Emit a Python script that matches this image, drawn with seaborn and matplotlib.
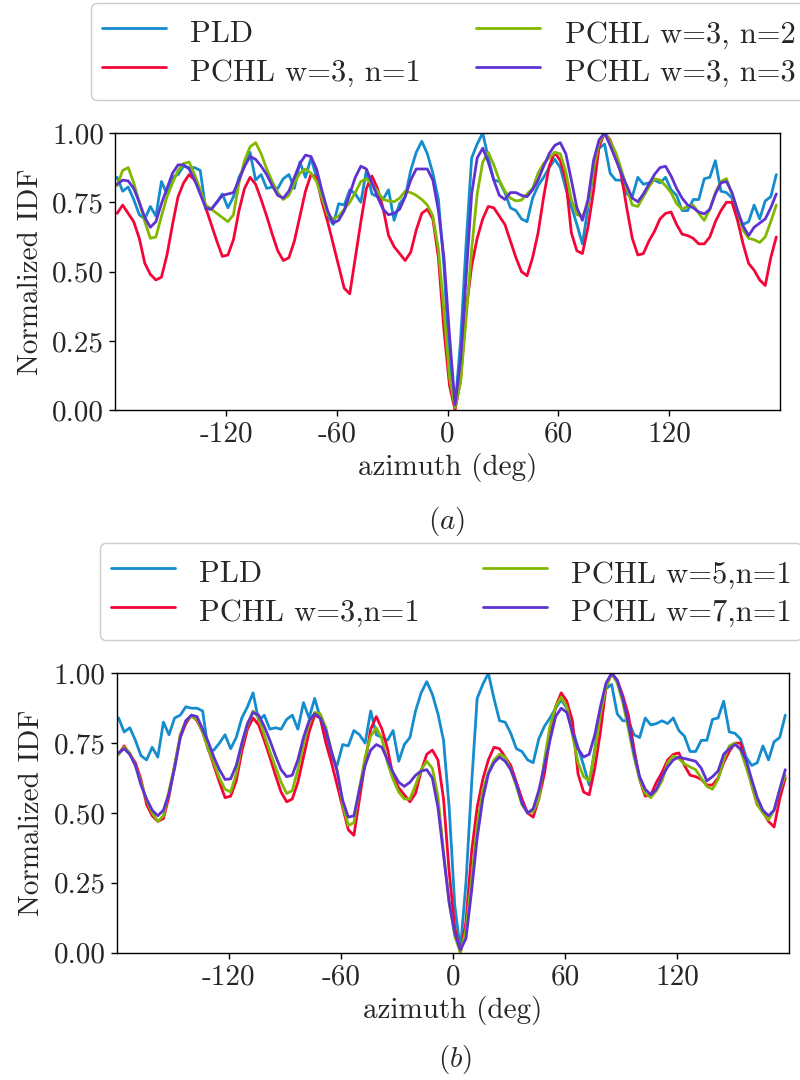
import numpy as np
import pandas as pd
import matplotlib
matplotlib.use("Agg")
import matplotlib.pyplot as plt
import seaborn as sns

# ---------------- data ----------------
azimuth = list(range(-179, 179, 3))  # 120 samples

pld = [0.84, 0.79, 0.805, 0.76, 0.705, 0.69, 0.735, 0.70, 0.825, 0.78,
       0.84, 0.85, 0.88, 0.875, 0.875, 0.865, 0.725, 0.725, 0.75, 0.78,
       0.73, 0.77, 0.84, 0.88, 0.93, 0.83, 0.85, 0.80, 0.805, 0.80,
       0.835, 0.85, 0.80, 0.895, 0.84, 0.91, 0.84, 0.76, 0.70, 0.67,
       0.745, 0.74, 0.795, 0.78, 0.75, 0.865, 0.78, 0.77, 0.76, 0.795,
       0.685, 0.745, 0.77, 0.865, 0.93, 0.97, 0.925, 0.855, 0.76, 0.52,
       0.17, 0.01, 0.25, 0.60, 0.91, 0.96, 1.00, 0.91, 0.83, 0.825,
       0.785, 0.73, 0.72, 0.69, 0.68, 0.765, 0.81, 0.84, 0.875, 0.905,
       0.875, 0.80, 0.735, 0.67, 0.60, 0.73, 0.86, 0.945, 0.96, 0.855,
       0.83, 0.83, 0.78, 0.77, 0.84, 0.815, 0.82, 0.83, 0.82, 0.84,
       0.795, 0.775, 0.72, 0.72, 0.76, 0.76, 0.835, 0.84, 0.90, 0.79,
       0.785, 0.765, 0.70, 0.67, 0.68, 0.74, 0.69, 0.755, 0.77, 0.85]

pchl_w3_n1 = [0.71, 0.74, 0.71, 0.68, 0.62, 0.53, 0.49, 0.47, 0.48, 0.56,
              0.67, 0.77, 0.82, 0.85, 0.83, 0.79, 0.73, 0.67, 0.61, 0.555,
              0.56, 0.615, 0.72, 0.80, 0.84, 0.815, 0.76, 0.70, 0.635, 0.575,
              0.54, 0.55, 0.61, 0.70, 0.79, 0.85, 0.84, 0.75, 0.68, 0.60,
              0.52, 0.44, 0.42, 0.55, 0.68, 0.80, 0.845, 0.80, 0.73, 0.63,
              0.59, 0.565, 0.54, 0.57, 0.65, 0.71, 0.725, 0.69, 0.55, 0.29,
              0.09, 0.00, 0.11, 0.36, 0.52, 0.62, 0.69, 0.735, 0.73, 0.70,
              0.67, 0.61, 0.55, 0.50, 0.485, 0.55, 0.64, 0.77, 0.88, 0.93,
              0.90, 0.83, 0.64, 0.575, 0.565, 0.66, 0.79, 0.95, 1.00, 0.975,
              0.92, 0.85, 0.73, 0.62, 0.56, 0.565, 0.61, 0.645, 0.69, 0.71,
              0.715, 0.67, 0.635, 0.63, 0.62, 0.60, 0.60, 0.625, 0.68, 0.72,
              0.75, 0.75, 0.685, 0.60, 0.53, 0.505, 0.47, 0.45, 0.55, 0.625]

pchl_w3_n2 = [0.81, 0.865, 0.875, 0.82, 0.75, 0.68, 0.62, 0.625, 0.70, 0.77,
              0.82, 0.865, 0.89, 0.895, 0.85, 0.795, 0.74, 0.725, 0.71, 0.695,
              0.68, 0.705, 0.82, 0.90, 0.95, 0.965, 0.925, 0.87, 0.825, 0.785,
              0.76, 0.775, 0.82, 0.855, 0.87, 0.855, 0.825, 0.765, 0.705, 0.69,
              0.70, 0.725, 0.75, 0.785, 0.825, 0.835, 0.815, 0.79, 0.76, 0.755,
              0.752, 0.765, 0.79, 0.785, 0.775, 0.76, 0.74, 0.70, 0.58, 0.36,
              0.12, 0.01, 0.10, 0.33, 0.58, 0.78, 0.895, 0.93, 0.885, 0.83,
              0.79, 0.765, 0.755, 0.758, 0.78, 0.80, 0.855, 0.89, 0.91, 0.93,
              0.925, 0.86, 0.76, 0.705, 0.70, 0.74, 0.87, 0.965, 1.00, 0.97,
              0.93, 0.87, 0.80, 0.74, 0.735, 0.77, 0.805, 0.835, 0.83, 0.81,
              0.785, 0.745, 0.725, 0.735, 0.74, 0.71, 0.685, 0.725, 0.785, 0.825,
              0.835, 0.78, 0.72, 0.65, 0.62, 0.615, 0.605, 0.625, 0.68, 0.74]

pchl_w3_n3 = [0.815, 0.83, 0.827, 0.80, 0.75, 0.695, 0.66, 0.68, 0.745, 0.80,
              0.855, 0.885, 0.885, 0.87, 0.83, 0.78, 0.73, 0.725, 0.75, 0.775,
              0.78, 0.785, 0.83, 0.88, 0.915, 0.905, 0.88, 0.85, 0.81, 0.775,
              0.765, 0.79, 0.84, 0.89, 0.92, 0.915, 0.87, 0.79, 0.72, 0.675,
              0.685, 0.72, 0.78, 0.84, 0.88, 0.87, 0.82, 0.77, 0.725, 0.705,
              0.71, 0.725, 0.77, 0.83, 0.87, 0.87, 0.87, 0.83, 0.72, 0.55,
              0.27, 0.02, 0.18, 0.48, 0.78, 0.91, 0.945, 0.895, 0.83, 0.775,
              0.76, 0.785, 0.785, 0.775, 0.77, 0.795, 0.83, 0.88, 0.925, 0.955,
              0.965, 0.925, 0.83, 0.73, 0.685, 0.76, 0.90, 0.975, 1.00, 0.955,
              0.905, 0.855, 0.81, 0.765, 0.752, 0.78, 0.815, 0.85, 0.875, 0.88,
              0.845, 0.80, 0.765, 0.74, 0.73, 0.715, 0.708, 0.725, 0.78, 0.82,
              0.825, 0.785, 0.72, 0.665, 0.63, 0.66, 0.675, 0.69, 0.73, 0.78]

pchl_w5_n1 = [0.71, 0.735, 0.715, 0.67, 0.61, 0.545, 0.50, 0.47, 0.49, 0.58,
              0.67, 0.78, 0.83, 0.845, 0.835, 0.79, 0.73, 0.68, 0.625, 0.585,
              0.575, 0.64, 0.745, 0.815, 0.865, 0.84, 0.78, 0.72, 0.665, 0.61,
              0.57, 0.58, 0.655, 0.745, 0.82, 0.86, 0.855, 0.805, 0.72, 0.655,
              0.53, 0.455, 0.465, 0.59, 0.70, 0.775, 0.805, 0.765, 0.68, 0.62,
              0.575, 0.55, 0.55, 0.60, 0.655, 0.685, 0.66, 0.56, 0.36, 0.18,
              0.06, 0.00, 0.08, 0.26, 0.455, 0.58, 0.645, 0.69, 0.71, 0.70,
              0.655, 0.595, 0.53, 0.50, 0.505, 0.55, 0.69, 0.81, 0.88, 0.915,
              0.88, 0.78, 0.68, 0.63, 0.615, 0.72, 0.855, 0.95, 1.00, 0.965,
              0.895, 0.80, 0.70, 0.62, 0.57, 0.555, 0.58, 0.615, 0.68, 0.705,
              0.695, 0.675, 0.665, 0.655, 0.625, 0.595, 0.585, 0.62, 0.69, 0.74,
              0.75, 0.725, 0.665, 0.60, 0.53, 0.50, 0.475, 0.51, 0.58, 0.635]

pchl_w7_n1 = [0.715, 0.73, 0.71, 0.67, 0.60, 0.55, 0.51, 0.49, 0.51, 0.57,
              0.66, 0.77, 0.83, 0.85, 0.845, 0.80, 0.755, 0.70, 0.655, 0.62,
              0.622, 0.67, 0.75, 0.82, 0.86, 0.85, 0.81, 0.76, 0.705, 0.655,
              0.63, 0.635, 0.69, 0.77, 0.83, 0.855, 0.84, 0.795, 0.72, 0.65,
              0.545, 0.485, 0.49, 0.585, 0.67, 0.725, 0.745, 0.735, 0.69, 0.645,
              0.61, 0.595, 0.61, 0.635, 0.65, 0.655, 0.625, 0.52, 0.35, 0.18,
              0.07, 0.01, 0.05, 0.22, 0.41, 0.55, 0.64, 0.68, 0.70, 0.685,
              0.655, 0.605, 0.535, 0.50, 0.515, 0.58, 0.67, 0.76, 0.845, 0.875,
              0.86, 0.79, 0.73, 0.70, 0.71, 0.78, 0.88, 0.965, 1.00, 0.975,
              0.91, 0.82, 0.715, 0.63, 0.585, 0.565, 0.585, 0.63, 0.665, 0.69,
              0.70, 0.695, 0.69, 0.685, 0.66, 0.615, 0.63, 0.65, 0.71, 0.73,
              0.745, 0.73, 0.69, 0.62, 0.555, 0.51, 0.49, 0.51, 0.585, 0.655]

labels_a = ["PLD", "PCHL w=3, n=1", "PCHL w=3, n=2", "PCHL w=3, n=3"]
labels_b = ["PLD", "PCHL w=3,n=1", "PCHL w=5,n=1", "PCHL w=7,n=1"]
series_a = [pld, pchl_w3_n1, pchl_w3_n2, pchl_w3_n3]
series_b = [pld, pchl_w3_n1, pchl_w5_n1, pchl_w7_n1]
colors = ["#148ccd", "#f50537", "#82b900", "#5f32d2"]

xticks = [-120, -60, 0, 60, 120]
xtick_labels = ["-120", "-60", "0", "60", "120"]
yticks = [0.0, 0.25, 0.5, 0.75, 1.0]
ytick_labels = ["0.00", "0.25", "0.50", "0.75", "1.00"]

# ---------------- style ----------------
sns.set_theme(style="ticks")
plt.rcParams["font.family"] = ["cmr10", "DejaVu Serif"]
plt.rcParams["mathtext.fontset"] = "cm"
plt.rcParams["axes.formatter.use_mathtext"] = True
plt.rcParams["axes.unicode_minus"] = False
plt.rcParams["axes.edgecolor"] = "black"
plt.rcParams["axes.linewidth"] = 1.0

FS = 21
LFS = 22

fig = plt.figure(figsize=(8.0, 10.8), dpi=100)
ax_a = fig.add_axes([0.1441, 0.6201, 0.8309, 0.2568])
ax_b = fig.add_axes([0.1459, 0.1179, 0.8404, 0.2587])


def draw(ax, series, labels, legend_xy, colspace, caption, caption_xy):
    frames = []
    for lab, vals in zip(labels, series):
        frames.append(pd.DataFrame({"azimuth": azimuth, "idf": vals, "method": lab}))
    df = pd.concat(frames, ignore_index=True)
    sns.lineplot(data=df, x="azimuth", y="idf", hue="method", hue_order=labels,
                 palette=colors, linewidth=2.0, ax=ax, legend=True, sort=False)
    ax.set_xlim(-180, 180)
    ax.set_ylim(0, 1)
    ax.set_xticks(xticks, xtick_labels)
    ax.set_yticks(yticks, ytick_labels)
    ax.tick_params(axis="both", labelsize=FS, length=4, width=1.0,
                   color="black", direction="out", pad=4)
    ax.set_xlabel("azimuth (deg)", fontsize=FS, labelpad=4)
    ax.set_ylabel("Normalized IDF", fontsize=FS, labelpad=6)
    for s in ax.spines.values():
        s.set_color("black")
        s.set_linewidth(1.0)
    handles, labs = ax.get_legend_handles_labels()
    ax.legend(handles, labs, ncol=2, loc="upper left",
              bbox_to_anchor=legend_xy, bbox_transform=fig.transFigure,
              fontsize=LFS, frameon=True, fancybox=True, framealpha=1.0,
              edgecolor="#cccccc", handlelength=2.1, handleheight=1.5,
              handletextpad=0.8, columnspacing=colspace, borderaxespad=0.0,
              borderpad=0.35, labelspacing=0.05)
    fig.text(caption_xy[0], caption_xy[1], caption, fontsize=FS,
             ha="center", va="center")


draw(ax_a, series_a, labels_a, (91 / 800, 1 - 3 / 1080), 1.8, r"$(a)$",
     (447 / 800, 1 - 521 / 1080))
draw(ax_b, series_b, labels_b, (100 / 800, 1 - 543 / 1080), 2.05, r"$(b)$",
     (455 / 800, 1 - 1060 / 1080))

fig.savefig("out.png", dpi=100, facecolor="white")
